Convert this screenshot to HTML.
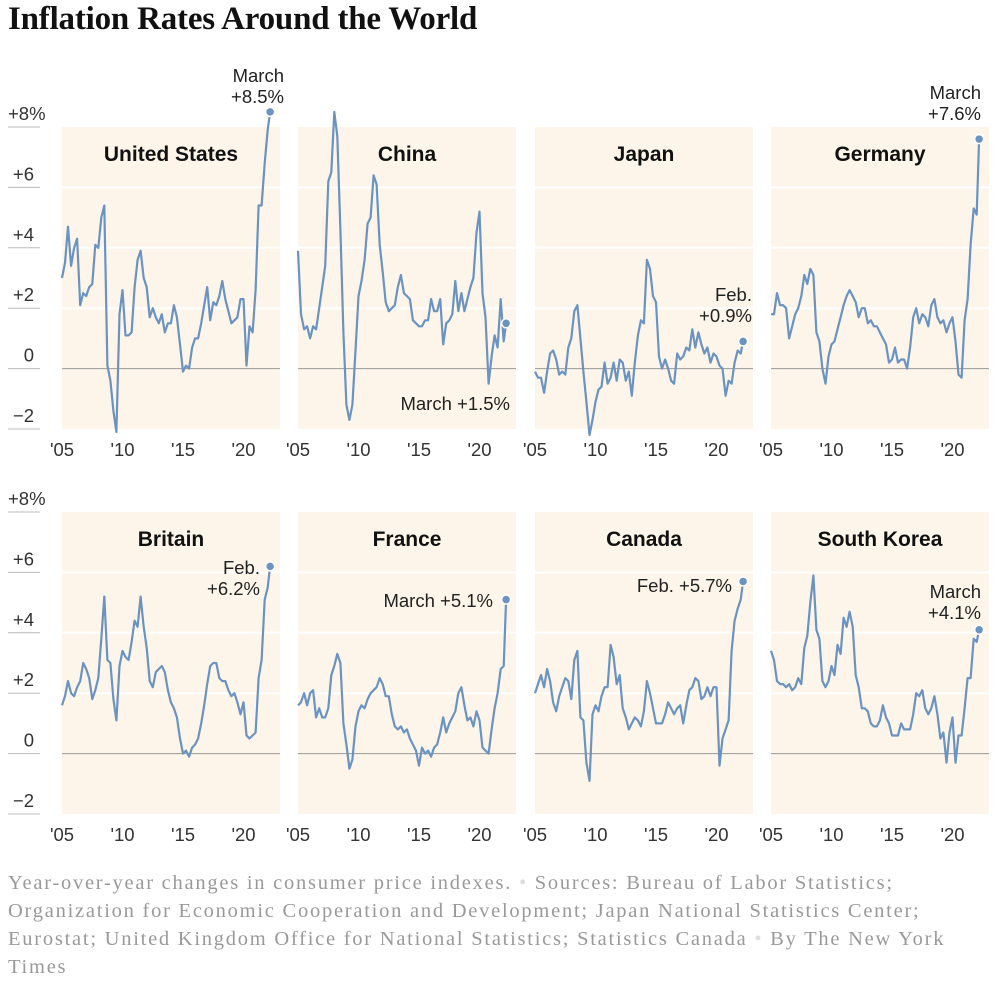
<!DOCTYPE html>
<html><head><meta charset="utf-8">
<style>
html,body{margin:0;padding:0;background:#fff;}
body{width:1000px;height:990px;overflow:hidden;position:relative;font-family:"Liberation Sans",sans-serif;}
#title{position:absolute;left:8px;top:1px;font-family:"Liberation Serif",serif;font-weight:bold;font-size:33px;color:#111;letter-spacing:-0.2px;margin:0;}
#foot{position:absolute;left:8px;top:869px;width:990px;font-family:"Liberation Serif",serif;font-size:20.5px;letter-spacing:1.75px;line-height:28px;color:#999;margin:0;white-space:nowrap;}
svg{position:absolute;left:0;top:0;}
</style></head><body>
<h1 id="title">Inflation Rates Around the World</h1>
<svg id="chart" width="1000" height="870"></svg>
<p id="foot">Year-over-year changes in consumer price indexes. <span style="color:#ddd">•</span> Sources: Bureau of Labor Statistics;<br>Organization for Economic Cooperation and Development; Japan National Statistics Center;<br>Eurostat; United Kingdom Office for National Statistics; Statistics Canada <span style="color:#ddd">•</span> By The New York<br>Times</p>
<script>
const countries = ["United States","China","Japan","Germany","Britain","France","Canada","South Korea"];
const yTicks = [8,6,4,2,0,-2];
const yTickLabels = ["+8%","+6","+4","+2","0","\u22122"];
const xTicks = [2005,2010,2015,2020];
const xTickLabels = ["'05","'10","'15","'20"];
const startYear = 2005, stepYear = 0.25, latestYear = 2022.2;
const usVals = [3.0,3.5,4.7,3.4,4.0,4.3,2.1,2.5,2.4,2.7,2.8,4.1,4.0,5.0,5.4,0.1,-0.4,-1.4,-2.1,1.8,2.6,1.1,1.1,1.2,2.7,3.6,3.9,3.0,2.7,1.7,2.0,1.7,1.5,1.8,1.2,1.5,1.5,2.1,1.7,0.8,-0.1,0.1,0.0,0.7,1.0,1.0,1.5,2.1,2.7,1.6,2.2,2.1,2.4,2.9,2.3,1.9,1.5,1.6,1.7,2.3,2.3,0.1,1.4,1.2,2.6,5.4,5.4,6.8,7.9];
const chinaVals = [3.9,1.8,1.3,1.4,1.0,1.4,1.3,2.0,2.7,3.4,6.2,6.5,8.5,7.7,4.6,1.2,-1.2,-1.7,-1.2,0.6,2.4,2.9,3.6,4.8,5.0,6.4,6.1,4.1,3.2,2.2,1.9,2.0,2.1,2.7,3.1,2.5,2.4,2.3,1.6,1.5,1.4,1.4,1.6,1.6,2.3,1.9,1.9,2.3,0.8,1.5,1.6,1.8,2.9,1.9,2.5,1.9,2.3,2.7,3.0,4.5,5.2,2.5,1.7,-0.5,0.4,1.1,0.7,2.3,0.9];
const japanVals = [-0.1,-0.3,-0.3,-0.8,-0.1,0.5,0.6,0.3,-0.2,-0.1,-0.2,0.7,1.0,1.9,2.1,1.0,-0.1,-1.1,-2.2,-1.7,-1.1,-0.7,-0.6,0.2,-0.5,-0.3,0.2,-0.4,0.3,0.2,-0.4,-0.1,-0.9,0.2,1.1,1.6,1.5,3.6,3.3,2.4,2.2,0.4,0.0,0.3,0.0,-0.4,-0.5,0.5,0.3,0.4,0.7,0.6,1.3,0.7,1.2,0.8,0.5,0.7,0.2,0.5,0.4,0.1,0.0,-0.9,-0.4,-0.5,0.2,0.6,0.5];
const germanyVals = [1.8,1.8,2.5,2.1,2.1,2.0,1.0,1.4,1.8,2.0,2.4,3.1,2.8,3.3,3.1,1.2,0.9,0.0,-0.5,0.4,0.8,0.9,1.3,1.7,2.1,2.4,2.6,2.4,2.2,1.7,2.0,2.0,1.5,1.6,1.4,1.4,1.2,1.0,0.8,0.2,0.3,0.7,0.2,0.3,0.3,0.0,0.7,1.7,2.0,1.5,1.8,1.7,1.4,2.1,2.3,1.7,1.5,1.6,1.2,1.5,1.7,0.9,-0.2,-0.3,1.6,2.3,4.1,5.3,5.1];
const britainVals = [1.6,1.9,2.4,2.0,1.9,2.2,2.4,3.0,2.8,2.5,1.8,2.1,2.5,3.8,5.2,3.1,3.0,1.8,1.1,2.9,3.4,3.2,3.1,3.7,4.4,4.2,5.2,4.2,3.5,2.4,2.2,2.7,2.8,2.9,2.7,2.1,1.7,1.5,1.2,0.5,0.0,0.1,-0.1,0.2,0.3,0.5,1.0,1.6,2.3,2.9,3.0,3.0,2.5,2.4,2.4,2.1,1.9,2.0,1.7,1.3,1.7,0.6,0.5,0.6,0.7,2.5,3.1,5.1,5.5];
const franceVals = [1.6,1.7,2.0,1.6,2.0,2.1,1.2,1.5,1.2,1.2,1.5,2.6,2.9,3.3,3.0,1.0,0.3,-0.5,-0.2,0.9,1.4,1.6,1.5,1.8,2.0,2.1,2.2,2.5,2.3,1.9,1.9,1.3,0.9,0.8,0.9,0.7,0.8,0.5,0.3,0.1,-0.4,0.2,0.0,0.1,-0.1,0.2,0.3,0.7,1.2,0.7,1.0,1.2,1.4,2.0,2.2,1.6,1.1,1.2,0.9,1.4,1.1,0.2,0.1,0.0,0.8,1.5,2.0,2.8,2.9];
const canadaVals = [2.0,2.3,2.6,2.2,2.8,2.4,1.7,1.4,1.9,2.2,2.5,2.4,1.8,3.1,3.4,1.2,1.1,-0.3,-0.9,1.3,1.6,1.4,1.9,2.2,2.2,3.6,3.2,2.3,2.6,1.5,1.2,0.8,1.0,1.2,1.1,0.9,1.4,2.4,2.0,1.5,1.0,1.0,1.0,1.3,1.7,1.5,1.3,1.5,1.6,1.0,1.6,2.1,2.2,2.5,2.4,1.8,1.9,2.2,1.9,2.2,2.2,-0.4,0.5,0.8,1.1,3.4,4.4,4.8,5.1];
const koreaVals = [3.4,3.1,2.4,2.3,2.3,2.2,2.3,2.1,2.2,2.5,2.3,3.5,3.9,5.0,5.9,4.1,3.8,2.4,2.2,2.4,2.9,2.6,3.6,3.3,4.5,4.2,4.7,4.2,2.6,2.2,1.5,1.5,1.4,1.0,0.9,0.9,1.1,1.6,1.2,1.0,0.6,0.6,0.6,1.0,0.8,0.8,0.8,1.3,2.0,1.9,2.1,1.5,1.3,1.5,1.9,1.3,0.5,0.7,-0.3,0.7,1.2,-0.3,0.6,0.6,1.5,2.5,2.5,3.8,3.7];
const latestVals = [8.5,1.5,0.9,7.6,6.2,5.1,5.7,4.1];
const noteLines = [["March","+8.5%"],["March +1.5%"],["Feb.","+0.9%"],["March","+7.6%"],["Feb.","+6.2%"],["March +5.1%"],["Feb. +5.7%"],["March","+4.1%"]];
const seriesList = [usVals,chinaVals,japanVals,germanyVals,britainVals,franceVals,canadaVals,koreaVals];

const NS="http://www.w3.org/2000/svg";
const svg=document.getElementById('chart');
function mk(tag,attrs,parent){const e=document.createElementNS(NS,tag);for(const k in attrs)e.setAttribute(k,attrs[k]);(parent||svg).appendChild(e);return e;}
const panelLefts=[62,298,535,771], panelW=218, rowTops=[127,512], panelH=302;
const noteBase=[82,410,301,99,574,607,592,598];
const noteRight=[284,510,752,981,260,493,732,981];
function yScale(row,v){return rowTops[row]+(8-v)*panelH/10;}
function xScale(col,yr){return panelLefts[col]+(yr-2005)*12.1;}

for(let row=0;row<2;row++){
  const ax=mk('g',{});
  
  
  yTicks.forEach((t,i)=>{
    const y=yScale(row,t);
    const ln=mk('line',{x1:8,x2:40,y1:y,y2:y,stroke:'#bbb','stroke-width':1},ax);
    
    
    const tx=mk('text',{x:i===0?8:34,y:y-7,'font-size':18.5,fill:'#333','text-anchor':i===0?'start':'end'},ax);
    
    
    tx.textContent=yTickLabels[i];
  });
}

seriesList.forEach((vals,p)=>{
  const row=Math.floor(p/4), col=p%4, left=panelLefts[col], top=rowTops[row];
  const g=mk('g',{});
  
  
  const bg=mk('rect',{x:left,y:top,width:panelW,height:panelH,fill:'#fdf5e9'},g);
  
  
  [2,4,6].forEach(t=>{
    const gl=mk('line',{x1:left,x2:left+panelW,y1:yScale(row,t),y2:yScale(row,t),stroke:'#fff','stroke-width':2},g);
    
    
  });
  const z=mk('line',{x1:left,x2:left+panelW,y1:yScale(row,0),y2:yScale(row,0),stroke:'#999','stroke-width':1},g);
  
  
  const tt=mk('text',{x:left+panelW/2,y:top+34,'font-size':21,'font-weight':'bold',fill:'#111','text-anchor':'middle'},g);
  
  
  tt.textContent=countries[p];
  xTicks.forEach((yr,i)=>{
    const xl=mk('text',{x:xScale(col,yr),y:top+panelH+27,'font-size':18.5,fill:'#333','text-anchor':'middle'},g);
    
    
    xl.textContent=xTickLabels[i];
  });
  const pts=vals.map((v,i)=>[xScale(col,startYear+i*stepYear),yScale(row,v)]);
  const lx=xScale(col,latestYear), ly=yScale(row,latestVals[p]);
  pts.push([lx,ly]);
  const path=mk('path',{d:'M'+pts.map(q=>q[0].toFixed(1)+','+q[1].toFixed(1)).join('L'),fill:'none',stroke:'#6a93c2','stroke-width':2.2,'stroke-linejoin':'round'},g);
  
  
  const dot=mk('circle',{cx:lx,cy:ly,r:4.5,fill:'#6a93c2',stroke:'#fff','stroke-width':1.5},g);
  
  
  noteLines[p].forEach((s,i)=>{
    const nt=mk('text',{x:noteRight[p],y:noteBase[p]+i*21,'font-size':18.5,fill:'#222','text-anchor':'end'},g);
    
    
    nt.textContent=s;
  });
});
</script>
</body></html>
